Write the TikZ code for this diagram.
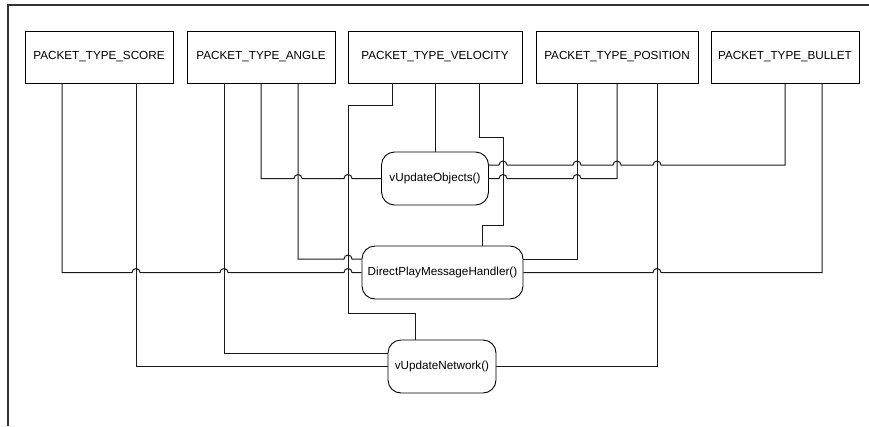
\documentclass[tikz,border=0pt]{standalone}
\usepackage{fontspec}
\setmainfont{Liberation Sans}
\newcommand\hopR{arc[start angle=180,end angle=0,radius=4pt]}
\newcommand\hopL{arc[start angle=0,end angle=180,radius=4pt]}
\begin{document}
\begin{tikzpicture}[x=1pt,y=-1pt,
  box/.style={draw=black, line width=0.9pt, minimum height=52pt, inner sep=0pt,
    font=\fontsize{11.7}{14}\selectfont},
  fn/.style={box, rounded corners=13pt, minimum height=53pt},
  wire/.style={draw=black!90, line width=1pt},
  frame/.style={draw=black!80, line width=1.6pt}]
\useasboundingbox (0,0) rectangle (869,426);
\draw[frame] (869,5) -- (8,5) -- (8,426);

\node[box, minimum width=148pt] (score)    at (99,57)  {PACKET\_TYPE\_SCORE};
\node[box, minimum width=148pt] (angle)    at (261,57) {PACKET\_TYPE\_ANGLE};
\node[box, minimum width=174pt] (velocity) at (435,57) {PACKET\_TYPE\_VELOCITY};
\node[box, minimum width=162pt] (position) at (617,57) {PACKET\_TYPE\_POSITION};
\node[box, minimum width=148pt] (bullet)   at (785,57) {PACKET\_TYPE\_BULLET};

\node[fn, minimum width=107pt] (vuo)  at (435,178.5) {vUpdateObjects()};
\node[fn, minimum width=161pt] (dpmh) at (442.5,272.5) {DirectPlayMessageHandler()};
\node[fn, minimum width=108pt] (vun)  at (442,366.5) {vUpdateNetwork()};

% SCORE
\draw[wire] ([xshift=-37pt]score.south) |- (132,272.5) \hopR -- (220,272.5) \hopR -- (344,272.5) \hopR -- (dpmh.west);
\draw[wire] ([xshift=37pt]score.south) |- (vun.west);
% ANGLE
\draw[wire] ([xshift=-37pt]angle.south) |- ([yshift=13.5pt]vun.west);
\draw[wire] (angle.south) |- (294,178.5) \hopR -- (344,178.5) \hopR -- (vuo.west);
\draw[wire] ([xshift=37pt]angle.south) |- (344,259) \hopR -- ([yshift=13.5pt]dpmh.west);
% VELOCITY
\draw[wire] ([xshift=-43pt]velocity.south) |- (348,105) -- (348,313) -| ([xshift=-27pt]vun.north);
\draw[wire] (velocity.south) -- (vuo.north);
\draw[wire] ([xshift=44pt]velocity.south) |- (503,137) -- (503,225) -| ([xshift=40pt]dpmh.north);
% POSITION
\draw[wire] ([xshift=-40pt]position.south) |- ([yshift=13.5pt]dpmh.east);
\draw[wire] (position.south) |- (581,178.5) \hopL -- (507,178.5) \hopL -- (vuo.east);
\draw[wire] ([xshift=40pt]position.south) |- (vun.east);
% BULLET
\draw[wire] (bullet.south) |- (661,165) \hopL -- (621,165) \hopL -- (581,165) \hopL -- (507,165) \hopL -- ([yshift=13.5pt]vuo.east);
\draw[wire] ([xshift=37pt]bullet.south) |- (661,272.5) \hopL -- (dpmh.east);
\end{tikzpicture}
\end{document}
